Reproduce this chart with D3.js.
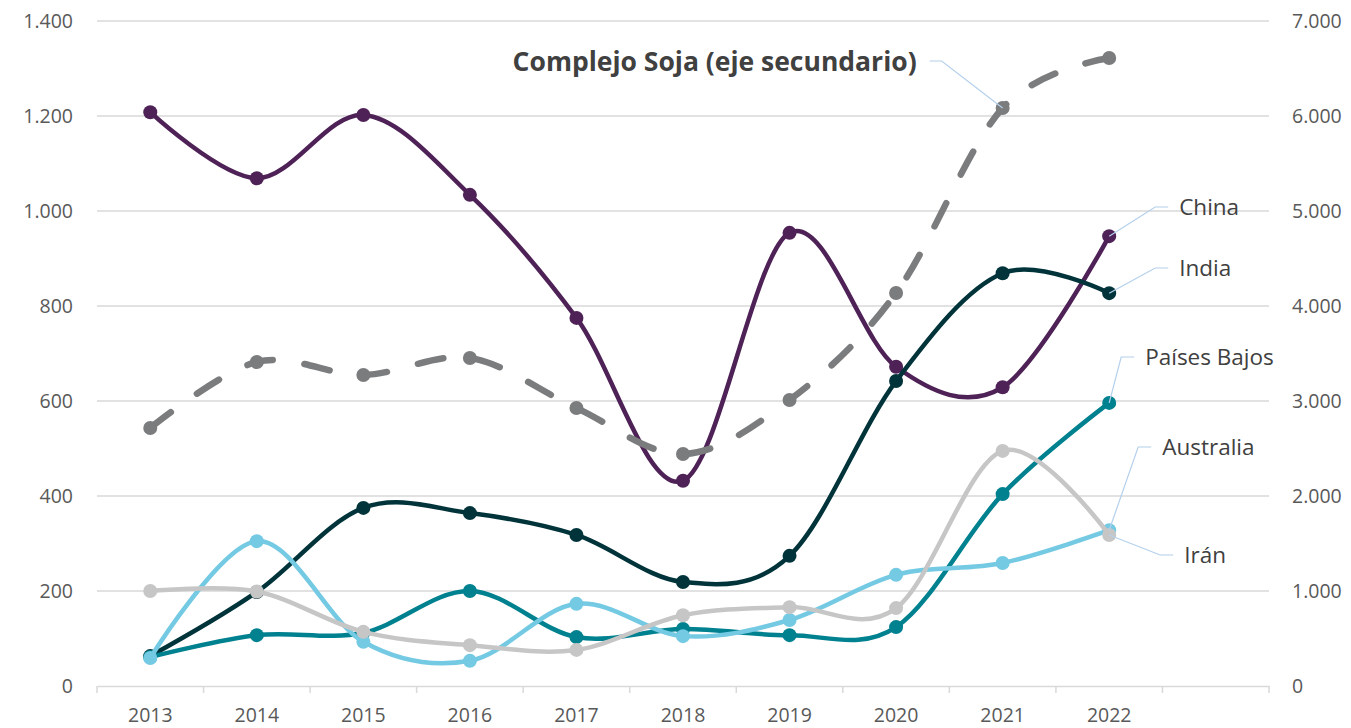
<!DOCTYPE html>
<html>
<head>
<meta charset="utf-8">
<script src="https://cdn.jsdelivr.net/npm/d3@7"></script>
<style>
  body { margin: 0; background: #fff; }
  svg { display: block; font-family: "Open Sans", sans-serif; }
</style>
</head>
<body>
<svg id="chart" width="1351" height="728"></svg>
<script>
(function () {
    'use strict';

    const years = ["2013", "2014", "2015", "2016", "2017", "2018", "2019", "2020", "2021", "2022"];
    const china = [1208, 1069, 1202, 1034, 775, 432, 954, 672, 629, 947];
    const india = [63, 198, 375, 364, 318, 219, 274, 642, 869, 827];
    const paisesBajos = [61, 107, 112, 200, 103, 120, 107, 124, 404, 596];
    const australia = [59, 305, 93, 53, 173, 105, 139, 234, 259, 328];
    const iran = [200, 199, 114, 86, 76, 149, 166, 164, 495, 318];
    const soja = [2716, 3411, 3274, 3453, 2926, 2442, 3011, 4137, 6084, 6611];
    const leftTicks = [0, 200, 400, 600, 800, 1000, 1200, 1400];
    const rightTicks = [0, 1000, 2000, 3000, 4000, 5000, 6000, 7000];

    const series = [
        { name: "China", values: china, color: "#4f2257", axis: "left", label: [70, 207] },
        { name: "India", values: india, color: "#01343a", axis: "left", label: [70, 268] },
        { name: "Países Bajos", values: paisesBajos, color: "#00818f", axis: "left", label: [36, 357] },
        { name: "Australia", values: australia, color: "#74c9e3", axis: "left", label: [53, 447] },
        { name: "Irán", values: iran, color: "#c6c6c6", axis: "left", label: [75, 555] },
        { name: "Complejo Soja (eje secundario)", values: soja, color: "#7b7c7e", axis: "right", dashed: true }
    ];

    const numberFormat = d3.formatLocale({ decimal: ",", thousands: ".", grouping: [3], currency: ["", ""] }).format(",d");

    const svg = d3.select("#chart");
    const left = 97, right = 1269, top = 21, bottom = 686;

    const x = d3.scaleBand().domain(years.concat([""])).range([left, right]);
    const yLeft = d3.scaleLinear().domain([0, 1400]).range([bottom, top]);
    const yRight = d3.scaleLinear().domain([0, 7000]).range([bottom, top]);
    const cx = i => x(years[i]) + x.bandwidth() / 2;

    // gridlines
    svg.append("g")
        .selectAll("line")
        .data(leftTicks.slice(1))
        .join("line")
        .attr("x1", left).attr("x2", right)
        .attr("y1", d => yLeft(d)).attr("y2", d => yLeft(d))
        .attr("stroke", "#d9d9d9").attr("stroke-width", 1.3);

    // left axis
    const axisL = svg.append("g")
        .attr("transform", `translate(${left},0)`)
        .call(d3.axisLeft(yLeft).tickValues(leftTicks).tickFormat(numberFormat).tickSize(0).tickPadding(24));
    axisL.select(".domain").remove();

    // right axis
    const axisR = svg.append("g")
        .attr("transform", `translate(${right},0)`)
        .call(d3.axisRight(yRight).tickValues(rightTicks).tickFormat(numberFormat).tickSize(0).tickPadding(23));
    axisR.select(".domain").remove();

    // bottom axis
    const axisB = svg.append("g")
        .attr("transform", `translate(0,${bottom})`)
        .call(d3.axisBottom(x).tickSize(0).tickPadding(22).tickFormat(d => d));
    axisB.select(".domain").attr("stroke", "#d9d9d9").attr("stroke-width", 1.5);
    axisB.append("g")
        .selectAll("line")
        .data(x.domain().concat(["end"]))
        .join("line")
        .attr("x1", (d, i) => left + i * x.step()).attr("x2", (d, i) => left + i * x.step())
        .attr("y1", 0).attr("y2", 7)
        .attr("stroke", "#d9d9d9").attr("stroke-width", 1.5);

    svg.selectAll(".tick text")
        .attr("fill", "#595959")
        .style("font-size", "19.5px")
        .style("font-family", "'Open Sans', sans-serif");

    const line = scale => d3.line()
        .x((d, i) => cx(i))
        .y(d => scale(d))
        .curve(d3.curveCardinal.tension(0));

    series.forEach(s => {
        const scale = s.axis === "left" ? yLeft : yRight;
        const g = svg.append("g");
        g.append("path")
            .datum(s.values)
            .attr("fill", "none")
            .attr("stroke", s.color)
            .attr("stroke-width", s.dashed ? 6.5 : 4.5)
            .attr("stroke-linecap", "round")
            .attr("stroke-dasharray", s.dashed ? "26,32" : null)
            .attr("d", line(scale));
        g.selectAll("circle")
            .data(s.values)
            .join("circle")
            .attr("cx", (d, i) => cx(i))
            .attr("cy", d => scale(d))
            .attr("r", 7)
            .attr("fill", s.color);
    });

    // data labels with leader lines
    const labelColor = "#404040";
    const leaderColor = "#b4d0ec";
    series.filter(s => s.label).forEach(s => {
        const i = s.values.length - 1;
        const px = cx(i), py = yLeft(s.values[i]);
        const tx = px + s.label[0], ty = s.label[1];
        svg.append("polyline")
            .attr("points", `${px},${py} ${tx - 24},${ty} ${tx - 11},${ty}`)
            .attr("fill", "none")
            .attr("stroke", leaderColor)
            .attr("stroke-width", 1.2);
        svg.append("text")
            .attr("x", tx).attr("y", ty)
            .attr("dy", "0.35em")
            .attr("fill", labelColor)
            .style("font-size", "22.5px")
            .text(s.name);
    });

    // secondary series label
    const soj = series[5];
    const sx = cx(8), sy = yRight(soj.values[8]);
    svg.append("polyline")
        .attr("points", `${sx},${sy} ${sx - 61},${61} ${sx - 73},${61}`)
        .attr("fill", "none")
        .attr("stroke", leaderColor)
        .attr("stroke-width", 1.2);
    svg.append("text")
        .attr("x", sx - 86).attr("y", 62)
        .attr("dy", "0.35em")
        .attr("text-anchor", "end")
        .attr("fill", "#404040")
        .style("font-size", "26.5px")
        .style("font-weight", "bold")
        .text(soj.name);
}());
</script>
</body>
</html>
